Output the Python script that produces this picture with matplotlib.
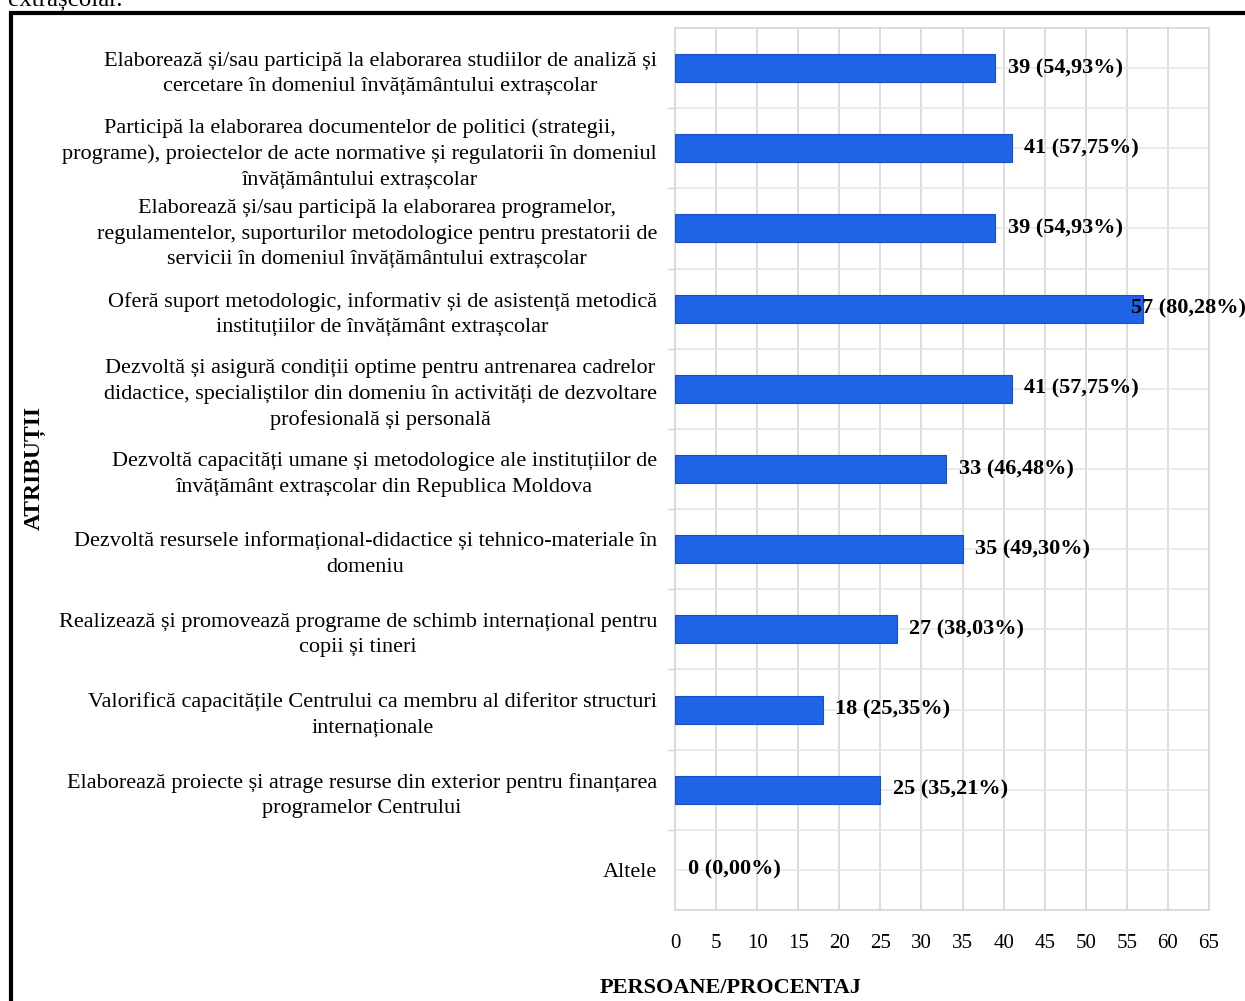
import matplotlib.pyplot as plt
from matplotlib.patches import Rectangle

plt.rcParams["font.family"] = ["Liberation Serif", "DejaVu Serif"]

atributii = [
    "Elaborează și/sau participă la elaborarea studiilor de analiză și\ncercetare în domeniul învățământului extrașcolar",
    "Participă la elaborarea documentelor de politici (strategii,\nprograme), proiectelor de acte normative și regulatorii în domeniul\nînvățământului extrașcolar",
    "Elaborează și/sau participă la elaborarea programelor,\nregulamentelor, suporturilor metodologice pentru prestatorii de\nservicii în domeniul învățământului extrașcolar",
    "Oferă suport metodologic, informativ și de asistență metodică\ninstituțiilor de învățământ extrașcolar",
    "Dezvoltă și asigură condiții optime pentru antrenarea cadrelor\ndidactice, specialiștilor din domeniu în activități de dezvoltare\nprofesională și personală",
    "Dezvoltă capacități umane și metodologice ale instituțiilor de\nînvățământ extrașcolar din Republica Moldova",
    "Dezvoltă resursele informațional-didactice și tehnico-materiale în\ndomeniu",
    "Realizează și promovează programe de schimb internațional pentru\ncopii și tineri",
    "Valorifică capacitățile Centrului ca membru al diferitor structuri\ninternaționale",
    "Elaborează proiecte și atrage resurse din exterior pentru finanțarea\nprogramelor Centrului",
    "Altele",
]
persoane = [39, 41, 39, 57, 41, 33, 35, 27, 18, 25, 0]
procente = ["54,93", "57,75", "54,93", "80,28", "57,75", "46,48",
            "49,30", "38,03", "25,35", "35,21", "0,00"]
x_ticks = list(range(0, 70, 5))

fig = plt.figure(figsize=(12.45, 10.01), dpi=100)
ax = fig.add_axes([675 / 1245, 1 - 910 / 1001, 534 / 1245, 882 / 1001])

ypos = list(range(len(persoane)))
edges = ["#1a4fc4" if v > 0 else "none" for v in persoane]
ax.barh(ypos, persoane, height=0.35, color="#1f63e6", edgecolor=edges,
        linewidth=0.8, zorder=3)

for y, v, p in zip(ypos, persoane, procente):
    x = min(v, 54.0)
    ax.annotate(f"{v} ({p}%)", xy=(x, y), xytext=(9, 0),
                textcoords="offset points", ha="left", va="center",
                fontsize=16, fontweight="bold", zorder=4,
                annotation_clip=False)

ax.set_xlim(0, 65)
ax.set_ylim(len(persoane) - 0.5, -0.5)
ax.set_xticks(x_ticks)
ax.set_yticks(ypos)
ax.set_yticklabels(atributii, fontsize=16, ha="right", multialignment="center",
                   linespacing=1.45)
ax.set_yticks([i - 0.5 for i in range(1, len(persoane))], minor=True)
ax.tick_params(axis="y", which="major", length=0, pad=13)
ax.tick_params(axis="y", which="minor", length=6, color="#d4d4d4", width=1)
ax.tick_params(axis="x", length=0, labelsize=15, pad=17)

ax.grid(True, axis="x", color="#d9d9d9", linewidth=1.3, zorder=0)
ax.grid(True, axis="y", which="both", color="#e6e6e6", linewidth=1.2, zorder=0)
ax.set_axisbelow(True)
for s in ax.spines.values():
    s.set_color("#d9d9d9")
    s.set_linewidth(1.3)

fig.text(731 / 1245, 1 - 988 / 1001, "PERSOANE/PROCENTAJ", ha="center",
         va="center", fontsize=16, fontweight="bold")
fig.text(35 / 1245, 1 - 468 / 1001, "ATRIBUȚII", ha="center", va="center",
         rotation=90, fontsize=17, fontweight="bold")
fig.text(8 / 1245, 1 - 6 / 1001, "extrașcolar.", ha="left", va="baseline",
         fontsize=18)

fig.patches.append(Rectangle((11 / 1245, -0.05), 1.2, 1 - 13 / 1001 + 0.05,
                             transform=fig.transFigure, fill=False,
                             edgecolor="black", linewidth=3))

fig.savefig("out.png", dpi=100)
